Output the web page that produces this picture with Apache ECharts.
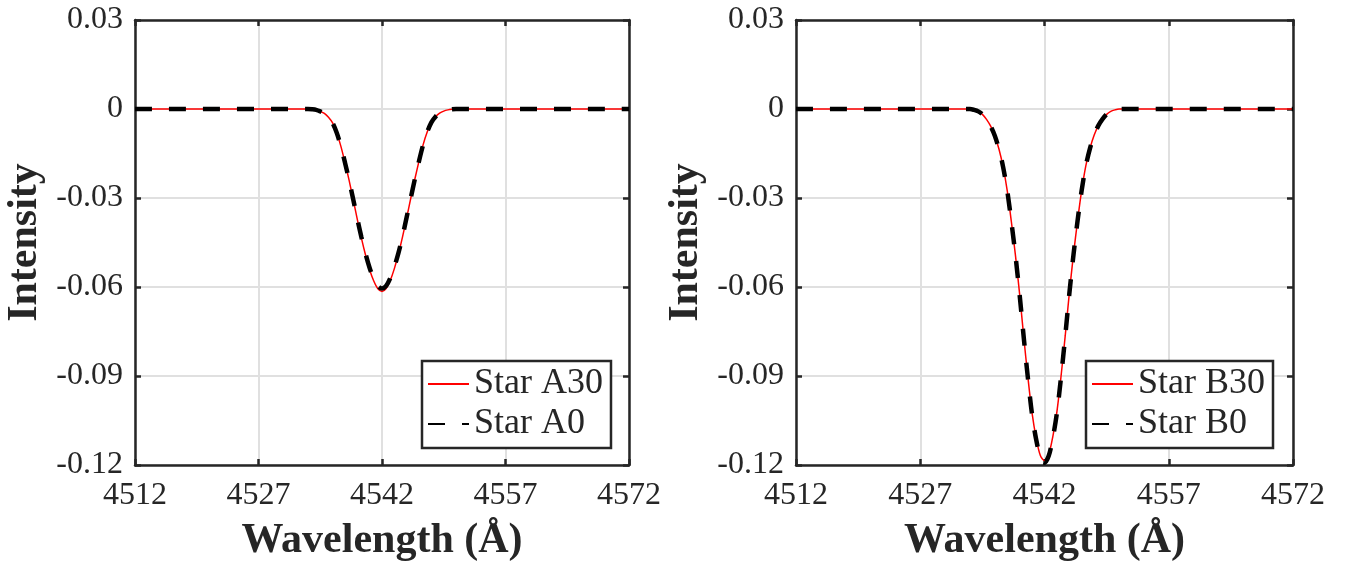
<!DOCTYPE html>
<html>
<head>
<meta charset="utf-8">
<script src="https://cdn.jsdelivr.net/npm/echarts@6/dist/echarts.min.js"></script>
<style>
html,body{margin:0;padding:0;background:#fff;}
#chart{width:1352px;height:561px;}
</style>
</head>
<body>
<div id="chart"></div>
<script>
// Wavelength samples (Å): 1 Å in the continuum, 0.5 Å across the line
const wavelengths = [4512,4513,4514,4515,4516,4517,4518,4519,4520,4521,4522,4523,4524,4525,4526,4527,4528,4529,4530,4531,4532,
  4533,4533.5,4534,4534.5,4535,4535.5,4536,4536.5,4537,4537.5,4538,4538.5,4539,4539.5,4540,4540.5,4541,4541.5,
  4542,
  4542.5,4543,4543.5,4544,4544.5,4545,4545.5,4546,4546.5,4547,4547.5,4548,4548.5,4549,4549.5,4550,4550.5,4551,
  4552,4553,4554,4555,4556,4557,4558,4559,4560,4561,4562,4563,4564,4565,4566,4567,4568,4569,4570,4571,4572];

const flat21 = [0,0,0,0,0,0,0,0,0,0,0,0,0,0,0,0,0,0,0,0,0];

// Star A30 (left, red) — line core values
const starA30Core = [0,-0.0001,-0.0003,-0.0008,-0.0015,-0.0028,-0.0047,-0.0080,-0.0125,-0.0180,-0.0240,-0.0305,-0.0372,-0.0435,-0.0492,-0.0542,-0.0580,-0.0606,
  -0.0615,
  -0.0605,-0.0578,-0.0538,-0.0488,-0.0430,-0.0366,-0.0300,-0.0235,-0.0175,-0.0120,-0.0077,-0.0045,-0.0026,-0.0014,-0.0007,-0.0003,-0.0001,0];
// Star A0 (left, black dashed)
const starA0Core = [0,-0.0001,-0.0003,-0.0008,-0.0015,-0.0028,-0.0047,-0.0080,-0.0125,-0.0180,-0.0240,-0.0304,-0.0370,-0.0432,-0.0488,-0.0536,-0.0572,-0.0597,
  -0.0605,
  -0.0596,-0.0570,-0.0532,-0.0485,-0.0428,-0.0364,-0.0299,-0.0235,-0.0175,-0.0120,-0.0077,-0.0045,-0.0026,-0.0014,-0.0007,-0.0003,-0.0001,0];
// Star B30 (right, red)
const starB30Core = [0,-0.0003,-0.0008,-0.0018,-0.0035,-0.0058,-0.0090,-0.0135,-0.0195,-0.0275,-0.0380,-0.0495,-0.0625,-0.0770,-0.0905,-0.1025,-0.1110,-0.1168,
  -0.1185,
  -0.1165,-0.1105,-0.1020,-0.0900,-0.0765,-0.0620,-0.0490,-0.0375,-0.0272,-0.0190,-0.0132,-0.0088,-0.0056,-0.0034,-0.0018,-0.0008,-0.0003,0];
// Star B0 (right, black dashed)
const starB0Core = [0,-0.0003,-0.0008,-0.0018,-0.0035,-0.0058,-0.0090,-0.0135,-0.0195,-0.0275,-0.0380,-0.0495,-0.0627,-0.0772,-0.0908,-0.1030,-0.1115,-0.1172,
  -0.1192,
  -0.1170,-0.1110,-0.1024,-0.0903,-0.0767,-0.0622,-0.0491,-0.0375,-0.0272,-0.0190,-0.0132,-0.0088,-0.0056,-0.0034,-0.0018,-0.0008,-0.0003,0];

const starA30 = flat21.concat(starA30Core, flat21);
const starA0 = flat21.concat(starA0Core, flat21);
const starB30 = flat21.concat(starB30Core, flat21);
const starB0 = flat21.concat(starB0Core, flat21);

const xTicks = [4512, 4527, 4542, 4557, 4572];
const yTicks = [0.03, 0, -0.03, -0.06, -0.09, -0.12];

const pairs = arr => wavelengths.map((w, i) => [w, arr[i]]);

const FONT = 'Liberation Serif';
const DARK = '#262626';
const GRIDC = '#e0e0e0';

function xAx(gridIndex, top) {
  return {
    type: 'value', gridIndex, position: top ? 'top' : 'bottom',
    min: xTicks[0], max: xTicks[xTicks.length - 1],
    name: top ? '' : 'Wavelength (Å)', nameLocation: 'middle', nameGap: 55,
    nameTextStyle: {fontFamily: FONT, fontWeight: 'bold', fontSize: 42, color: DARK},
    axisLine: {show: true, onZero: false, lineStyle: {color: DARK, width: 2.5}},
    axisTick: {show: true, inside: true, length: 6, customValues: xTicks, lineStyle: {color: DARK, width: 2.5}},
    axisLabel: {show: !top, customValues: xTicks, margin: 15, fontFamily: FONT, fontSize: 32, color: DARK,
      formatter: v => String(v)},
    splitLine: {show: !top, lineStyle: {color: GRIDC, width: 2}}
  };
}
function yAx(gridIndex, right) {
  return {
    type: 'value', gridIndex, position: right ? 'right' : 'left',
    min: yTicks[yTicks.length - 1], max: yTicks[0], interval: 0.03,
    name: right ? '' : 'Intensity', nameLocation: 'middle', nameGap: 89,
    nameTextStyle: {fontFamily: FONT, fontWeight: 'bold', fontSize: 42, color: DARK},
    axisLine: {show: true, onZero: false, lineStyle: {color: DARK, width: 2.5}},
    axisTick: {show: true, inside: true, length: 6, lineStyle: {color: DARK, width: 2.5}},
    axisLabel: {show: !right, margin: 12, fontFamily: FONT, fontSize: 32, color: DARK,
      formatter: v => Math.abs(v) < 1e-9 ? '0' : v.toFixed(2)},
    splitLine: {show: !right, lineStyle: {color: GRIDC, width: 2}}
  };
}
function legend(left, names) {
  return {
    data: names, orient: 'vertical', left: left, top: 361,
    padding: [5, 8, 6, 5], itemGap: 4, itemWidth: 41, itemHeight: 14,
    borderColor: DARK, borderWidth: 2.5, backgroundColor: '#fff', borderRadius: 0,
    textStyle: {fontFamily: FONT, fontSize: 36, color: DARK, lineHeight: 36},
    itemStyle: {opacity: 0}
  };
}
function lineSeries(name, arr, xi, yi, red) {
  return {
    name, type: 'line', xAxisIndex: xi, yAxisIndex: yi, data: pairs(arr),
    showSymbol: false, symbol: 'none', smooth: 0.3,
    lineStyle: red ? {color: '#ff0000', width: 1.5} : {color: '#000000', width: 4.5, type: [17, 17], cap: 'butt'},
    itemStyle: {color: red ? '#ff0000' : '#000000'},
    z: red ? 2 : 3, animation: false
  };
}

const chart = echarts.init(document.getElementById('chart'), null, {renderer: 'canvas'});
chart.setOption({
  animation: false,
  backgroundColor: '#fff',
  grid: [
    {left: 135, top: 20, width: 494, height: 445, containLabel: false, outerBoundsMode: 'none'},
    {left: 796, top: 20, width: 497, height: 445, containLabel: false, outerBoundsMode: 'none'}
  ],
  xAxis: [xAx(0, false), xAx(0, true), xAx(1, false), xAx(1, true)],
  yAxis: [yAx(0, false), yAx(0, true), yAx(1, false), yAx(1, true)],
  legend: [legend(422, ['Star A30', 'Star A0']), legend(1086, ['Star B30', 'Star B0'])],
  series: [
    lineSeries('Star A30', starA30, 0, 0, true),
    lineSeries('Star A0', starA0, 0, 0, false),
    lineSeries('Star B30', starB30, 2, 2, true),
    lineSeries('Star B0', starB0, 2, 2, false)
  ]
});
</script>
</body>
</html>
